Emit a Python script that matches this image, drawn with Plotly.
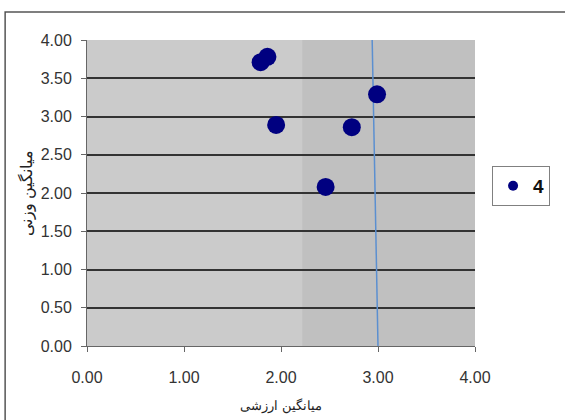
import plotly.graph_objects as go

# Data
x_vals = [1.79, 1.86, 1.95, 2.46, 2.73, 2.99]
y_vals = [3.71, 3.78, 2.89, 2.08, 2.86, 3.29]
series_name = "4"
ref_x = [2.94, 3.00]
ref_y = [4.00, 0.00]
x_ticks = [0, 1, 2, 3, 4]
y_ticks = [0, 0.5, 1, 1.5, 2, 2.5, 3, 3.5, 4]
x_title = "میانگین ارزشی"
y_title = "میانگین وزنی"

fig = go.Figure()
fig.add_trace(go.Scatter(
    x=ref_x, y=ref_y, mode="lines", showlegend=False, hoverinfo="skip",
    line=dict(color="#5b8fd0", width=1.5)))
fig.add_trace(go.Scatter(
    x=x_vals, y=y_vals, mode="markers", name=series_name, showlegend=False,
    marker=dict(color="#000080", size=18, symbol="circle")))
# legend entry with the reference's small legend symbol
fig.add_trace(go.Scatter(
    x=[None], y=[None], mode="markers",
    name="<b>" + series_name + "</b>",
    marker=dict(color="#000080", size=10, symbol="circle")))

fig.update_layout(
    width=565, height=420,
    margin=dict(l=87, r=90, t=40, b=74),
    paper_bgcolor="white", plot_bgcolor="#c0c0c0",
    font=dict(family="Liberation Sans, Arial, sans-serif", color="#333"),
    showlegend=True,
    legend=dict(x=1.044, y=0.523, xanchor="left", yanchor="middle",
                bordercolor="#808080", borderwidth=1, bgcolor="white",
                font=dict(size=19, color="#111", family="Liberation Sans Narrow, Liberation Sans, Arial"),
                itemwidth=30, tracegroupgap=0),
    shapes=[
        dict(type="rect", xref="x", yref="y", x0=0, x1=2.22, y0=0, y1=4,
             fillcolor="#cbcbcb", line=dict(width=0), layer="below"),
        dict(type="rect", xref="paper", yref="paper", x0=-0.211, x1=1.4, y0=-0.5, y1=1.0915,
             line=dict(color="#555", width=1.5), fillcolor="rgba(0,0,0,0)"),
    ],
)
fig.update_xaxes(
    range=[0, 4], tickvals=x_ticks, ticktext=[f"{v:.2f}" for v in x_ticks],
    showgrid=False, zeroline=False, showline=True, linecolor="#666", linewidth=1,
    ticks="outside", ticklen=5, tickcolor="#666", ticklabelstandoff=12,
    tickfont=dict(size=16, color="#333"), automargin=False,
    title=dict(text=x_title, font=dict(size=13, color="#222"), standoff=15),
)
fig.update_yaxes(
    range=[0, 4], tickvals=y_ticks, ticktext=[f"{v:.2f}" for v in y_ticks],
    showgrid=True, gridcolor="#333", gridwidth=1.5, zeroline=False,
    showline=True, linecolor="#666", linewidth=1,
    ticks="outside", ticklen=5, tickcolor="#666", ticklabelstandoff=6,
    tickfont=dict(size=16, color="#333"), automargin=False,
    title=dict(text=y_title, font=dict(size=16, color="#222"), standoff=4),
)
fig.write_html("out.html", config={"displayModeBar": False},
               post_script="document.body.style.margin='0';")
